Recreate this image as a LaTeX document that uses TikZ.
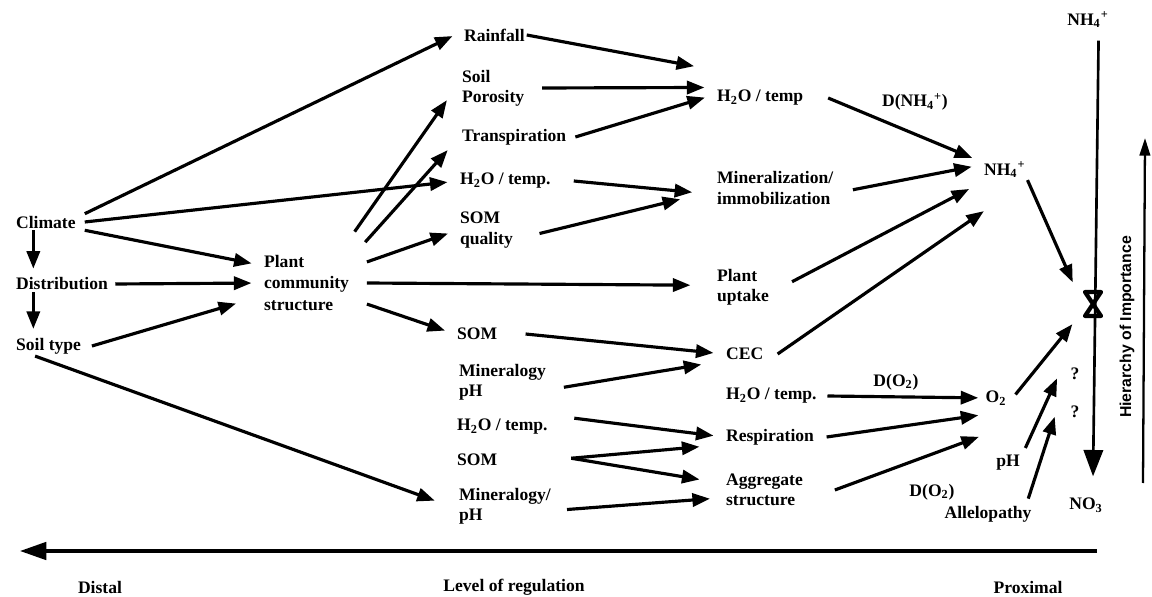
\documentclass[tikz,border=0pt]{standalone}
\usepackage{fontspec}
\setmainfont{Liberation Serif}
\setsansfont{Liberation Sans}
\usepackage{tikz}
\usetikzlibrary{arrows.meta,positioning}

\begin{document}
\begin{tikzpicture}[
    x=0.02cm, y=-0.02cm,
    item/.style={anchor=west,align=left,inner sep=1pt,font=\bfseries\fontsize{10}{11.5}\selectfont},
    tag/.style={inner sep=1pt,font=\bfseries\fontsize{10}{11.5}\selectfont},
    arrow/.style={-{Triangle[length=10pt,width=7.5pt]},line width=1.8pt,shorten >=6pt},
    bigarrow/.style={-{Triangle[length=15pt,width=11pt]},line width=1.5pt}
]
    \useasboundingbox (0,0) rectangle (1152,597);

    % Nodes
    \node[item] (clim) at (14,222) {Climate};
    \node[item] (dist) at (14,284) {Distribution};
    \node[item] (soil) at (14,346) {Soil type};
    \node[item,font=\bfseries\fontsize{10}{12.5}\selectfont] (plant) at (262,283) {Plant\\community\\structure};

    \node[item] (rain) at (462,35) {Rainfall};
    \node[item] (poro) at (460,88) {Soil\\Porosity};
    \node[item] (trans) at (460,137) {Transpiration};
    \node[item] (hta) at (458,181) {H\textsubscript{2}O / temp.};
    \node[item] (somq) at (458,230) {SOM\\quality};
    \node[item] (soma) at (455,334) {SOM};
    \node[item] (minph) at (457,382) {Mineralogy\\pH};
    \node[item] (htb) at (455,427) {H\textsubscript{2}O / temp.};
    \node[item] (somb) at (455,460) {SOM};
    \node[item] (minb) at (457,506) {Mineralogy/\\pH};

    \node[item] (htc) at (715,98) {H\textsubscript{2}O / temp};
    \node[item] (mineral) at (715,188) {Mineralization/\\immobilization};
    \node[item] (uptake) at (715,287) {Plant\\uptake};
    \node[item] (cec) at (724,354) {CEC};
    \node[item] (htd) at (724,396) {H\textsubscript{2}O / temp.};
    \node[item] (resp) at (724,437) {Respiration};
    \node[item] (aggr) at (724,490) {Aggregate\\structure};

    \node[item] (nha) at (982,170) {NH\textsubscript{4}\textsuperscript{+}};
    \node[tag] (nht) at (1088,20) {NH\textsubscript{4}\textsuperscript{+}};
    \node[tag] (no3) at (1086,505) {NO\textsubscript{3}};
    \node[tag] (otwo) at (996,398) {O\textsubscript{2}};
    \node[tag] (qa) at (1075,374) {?};
    \node[tag] (qb) at (1075,412) {?};
    \node[tag] (ph) at (1008,463) {pH};
    \node[tag] (alle) at (988,514) {Allelopathy};
    \coordinate (hg) at (1093,304);
    \coordinate (hbot) at (1143,483);
    \coordinate (htop) at (1145,138);
    \coordinate (axr) at (1097,551);
    \coordinate (axl) at (20,551);

    % Arrows
    \draw[arrow] ([xshift=4pt]clim.north east) -- ([yshift=2pt]rain.west);
    \draw[arrow] ([xshift=4pt]clim.east) -- (hta.west);
    \draw[arrow] ([xshift=4pt]clim.south east) -- ([yshift=10pt]plant.west);
    \draw[arrow,shorten >=4pt] ([xshift=11pt]clim.south west) -- ([xshift=11pt]dist.north west);
    \draw[arrow] ([xshift=3pt]dist.east) -- (plant.west);
    \draw[arrow,shorten >=4pt] ([xshift=11pt]dist.south west) -- ([xshift=11pt]soil.north west);
    \draw[arrow] ([xshift=5pt]soil.east) -- ([xshift=-9pt,yshift=-10pt]plant.west);
    \draw[arrow] ([xshift=12pt]soil.south west) -- ([xshift=-7pt,yshift=1pt]minb.west);

    \draw[arrow] ([xshift=2pt,yshift=12pt]plant.north east) -- ([xshift=-4pt,yshift=-2pt]poro.west);
    \draw[arrow] ([xshift=8pt,yshift=6pt]plant.north east) -- ([xshift=-3pt,yshift=-3pt]trans.west);
    \draw[arrow] ([xshift=9pt,yshift=12pt]plant.east) -- (somq.west);
    \draw[arrow] ([xshift=9pt]plant.east) -- ([xshift=-8pt,yshift=1pt]uptake.west);
    \draw[arrow] ([xshift=9pt,yshift=-12pt]plant.east) -- (soma.west);

    \draw[arrow] (rain.east) -- ([xshift=-6pt,yshift=17pt]htc.west);
    \draw[arrow] ([xshift=9pt]poro.east) -- ([yshift=6pt]htc.west);
    \draw[arrow] ([xshift=4pt]trans.east) -- ([yshift=2pt]htc.west);
    \draw[arrow] ([xshift=12pt]hta.east) -- ([xshift=-7pt,yshift=-3pt]mineral.west);
    \draw[arrow] ([xshift=14pt,yshift=-2pt]somq.east) -- ([xshift=-14pt,yshift=-5pt]mineral.west);

    \draw[arrow] ([xshift=13pt]htc.east) -- ([yshift=4.5pt]nha.west);
    \draw[arrow] ([xshift=10pt,yshift=-1pt]mineral.east) -- ([yshift=3pt]nha.west);
    \draw[arrow] ([xshift=12pt,yshift=3pt]uptake.east) -- ([xshift=-2pt,yshift=-8pt]nha.west);
    \draw[arrow] ([xshift=7pt]cec.east) -- ([xshift=6pt,yshift=-20pt]nha.west);
    \draw[arrow] (nha.south east) -- ([shift={(-16,-12)}]hg);

    \draw[arrow] ([xshift=15pt]soma.east) -- (cec.west);
    \draw[arrow] ([xshift=9pt,yshift=-3pt]minph.east) -- ([xshift=-7pt,yshift=-5pt]cec.west);
    \draw[arrow] ([xshift=14pt,yshift=5pt]htb.east) -- (resp.west);
    \draw[arrow] ([xshift=41pt,yshift=1pt]somb.east) -- ([xshift=-8pt,yshift=-5pt]resp.west);
    \draw[arrow] ([xshift=41pt,yshift=1pt]somb.east) -- ([xshift=-8pt,yshift=5pt]aggr.west);
    \draw[arrow] ([xshift=8pt,yshift=-2pt]minb.east) -- ([xshift=-2pt,yshift=-4.5pt]aggr.west);

    \draw[arrow] ([xshift=5pt]htd.east) -- ([xshift=3pt]otwo.west);
    \draw[arrow] ([xshift=6pt]resp.east) -- ([xshift=3pt,yshift=-9pt]otwo.west);
    \draw[arrow] ([xshift=17pt]aggr.east) -- ([xshift=3pt,yshift=-20pt]otwo.west);
    \draw[arrow] ([xshift=4pt,yshift=2pt]otwo.east) -- ([shift={(-14,12)}]hg);
    \draw[arrow] ([xshift=2pt,yshift=3pt]ph.north east) -- ([xshift=-4pt,yshift=3pt]qa.west);
    \draw[arrow] ([xshift=-3pt,yshift=3pt]alle.north east) -- ([xshift=-6pt,yshift=3pt]qb.west);

    \draw[bigarrow] ([xshift=6pt,yshift=-6pt]nht.south) -- ([xshift=4pt,yshift=11pt]no3.north);
    \draw[line width=2.4pt,line join=round] ([shift={(-8,-12)}]hg) -- ([shift={(8,-12)}]hg)
        -- ([shift={(-8,12)}]hg) -- ([shift={(8,12)}]hg) -- cycle;
    \draw[-{Triangle[length=10pt,width=6pt]},line width=1.3pt] (hbot) -- (htop);
    \draw[-{Triangle[length=15pt,width=10pt]},line width=1.8pt] (axr) -- (axl);

    % Labels
    \node[tag] (dnh) at (915,102) {D(NH\textsubscript{4}\textsuperscript{+})};
    \node[tag] (doxa) at (896,382) {D(O\textsubscript{2})};
    \node[tag] (doxb) at (932,492) {D(O\textsubscript{2})};
    \node[tag,rotate=90,font=\sffamily\bfseries\fontsize{9}{10}\selectfont] (hier) at (1127,327) {Hierarchy of Importance};
    \node[tag] (distal) at (100,587) {Distal};
    \node[tag] (level) at (514,587) {Level of regulation};
    \node[tag] (prox) at (1028,587) {Proximal};
\end{tikzpicture}
\end{document}
